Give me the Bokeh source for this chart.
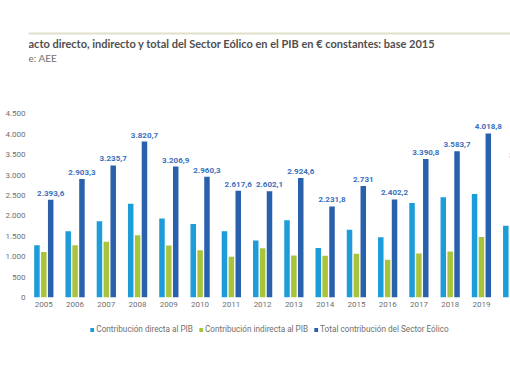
from bokeh.plotting import figure
from bokeh.layouts import column
from bokeh.models import (Range1d, FixedTicker, Label, Legend, LegendItem,
                          ColumnDataSource, LabelSet, Span)
from bokeh.transform import dodge
from bokeh.embed import file_html
from bokeh.resources import INLINE
from bokeh.core.properties import value

# ---- data (millones de € constantes, base 2015) ----
years = ["2005", "2006", "2007", "2008", "2009", "2010", "2011", "2012",
         "2013", "2014", "2015", "2016", "2017", "2018", "2019", "2020"]
direct = [1280, 1620, 1870, 2295, 1935, 1800, 1620, 1395,
          1895, 1212, 1657, 1475, 2315, 2458, 2537, 1760]
indirect = [1114, 1283, 1366, 1526, 1272, 1160, 998, 1207,
            1030, 1020, 1074, 927, 1076, 1126, 1482, 1560]
total = [2393.6, 2903.3, 3235.7, 3820.7, 3206.9, 2960.3, 2617.6, 2602.1,
         2924.6, 2231.8, 2731.0, 2402.2, 3390.8, 3583.7, 4018.8, 3320.0]
total_labels = ["2.393,6", "2.903,3", "3.235,7", "3.820,7", "3.206,9", "2.960,3",
                "2.617,6", "2.602,1", "2.924,6", "2.231,8", "2.731", "2.402,2",
                "3.390,8", "3.583,7", "4.018,8", "3.320"]
y_ticks = [0, 500, 1000, 1500, 2000, 2500, 3000, 3500, 4000, 4500]
y_tick_labels = ["0", "500", "1.000", "1.500", "2.000", "2.500",
                 "3.000", "3.500", "4.000", "4.500"]
series_names = ["Contribución directa al PIB", "Contribución indirecta al PIB",
                "Total contribución del Sector Eólico"]
title_text = "acto directo, indirecto y total del Sector Eólico en el PIB en € constantes: base 2015"
source_text = "e: AEE"

C_DIRECT = "#1c9dd9"
C_INDIRECT = "#a8c43c"
C_TOTAL = "#2a61ac"
C_LABEL = "#3a70bd"
C_AXIS = "#6f6f6f"
W = 510

# ---------------- header ----------------
head = figure(width=W, height=92, output_backend="svg", toolbar_location=None,
              x_range=Range1d(0, 1), y_range=Range1d(0, 92),
              x_axis_type=None, y_axis_type=None,
              min_border=0, outline_line_color=None)
head.grid.visible = False
head.add_layout(Span(location=59, dimension="width", line_color="#e0dfca",
                     line_width=2))
head.add_layout(Label(x=0, y=49, x_units="screen", y_units="screen",
                      text=title_text, text_baseline="middle",
                      text_font="Lato", text_font_size="11px",
                      text_font_style="bold", text_color="#4f4f4f"))
head.add_layout(Label(x=0, y=35, x_units="screen", y_units="screen",
                      text=source_text, text_baseline="middle",
                      text_font="Lato", text_font_size="10px",
                      text_color="#707070"))

# ---------------- main chart ----------------
idx = list(range(len(years)))
src = ColumnDataSource(dict(x=idx, direct=direct, indirect=indirect,
                            total=total, lab=total_labels))

p = figure(width=W, height=226, output_backend="svg", toolbar_location=None,
           x_range=Range1d(-0.49, 14.93), y_range=Range1d(0, 4826),
           min_border_left=28, min_border_right=0, min_border_top=8,
           min_border_bottom=21, outline_line_color=None)
p.grid.visible = False

off = 0.22
bw = 0.176
r1 = p.vbar(x=dodge("x", -off, range=p.x_range), top="direct", width=bw,
            source=src, fill_color=C_DIRECT, line_color=None)
r2 = p.vbar(x=dodge("x", 0, range=p.x_range), top="indirect", width=bw,
            source=src, fill_color=C_INDIRECT, line_color=None)
r3 = p.vbar(x=dodge("x", off, range=p.x_range), top="total", width=bw,
            source=src, fill_color=C_TOTAL, line_color=None)

p.add_layout(LabelSet(x=dodge("x", off, range=p.x_range), y="total", text="lab",
                      source=src, text_align="center", text_baseline="bottom",
                      y_offset=4, text_font=value("Roboto"),
                      text_font_size=value("8px"), text_font_style="bold",
                      text_color=C_LABEL))

p.yaxis.ticker = FixedTicker(ticks=y_ticks)
p.yaxis.major_label_overrides = {t: l for t, l in zip(y_ticks, y_tick_labels)}
p.xaxis.ticker = FixedTicker(ticks=idx)
p.xaxis.major_label_overrides = {i: y for i, y in zip(idx, years)}
for ax in (p.xaxis[0], p.yaxis[0]):
    ax.axis_line_color = None
    ax.major_tick_line_color = None
    ax.minor_tick_line_color = None
    ax.major_tick_out = 0
    ax.major_tick_in = 0
    ax.minor_tick_out = 0
    ax.major_label_text_font = "Roboto"
    ax.major_label_text_font_size = "8px"
    ax.major_label_text_color = C_AXIS
p.yaxis.major_label_standoff = 3
p.xaxis.major_label_standoff = 4

# ---------------- legend ----------------
foot = figure(width=W, height=64, output_backend="svg", toolbar_location=None,
              x_range=Range1d(0, 1), y_range=Range1d(0, 1),
              x_axis_type=None, y_axis_type=None,
              min_border=0, outline_line_color=None)
foot.grid.visible = False
g1 = foot.vbar(x=[-5], top=[0], width=0.1, fill_color=C_DIRECT, line_color=None)
g2 = foot.vbar(x=[-5], top=[0], width=0.1, fill_color=C_INDIRECT, line_color=None)
g3 = foot.vbar(x=[-5], top=[0], width=0.1, fill_color=C_TOTAL, line_color=None)
foot.add_layout(Legend(items=[LegendItem(label=series_names[0], renderers=[g1]),
                              LegendItem(label=series_names[1], renderers=[g2]),
                              LegendItem(label=series_names[2], renderers=[g3])],
                       orientation="horizontal", location="top_center",
                       glyph_width=5, glyph_height=5, label_standoff=2,
                       label_height=10, label_text_font="Roboto",
                       label_text_font_size="8.2px", label_text_color=C_AXIS,
                       spacing=5, padding=0, margin=6,
                       border_line_color=None, background_fill_alpha=0))

layout = column(head, p, foot, spacing=0)
open("out.html", "w").write(file_html(layout, INLINE))
